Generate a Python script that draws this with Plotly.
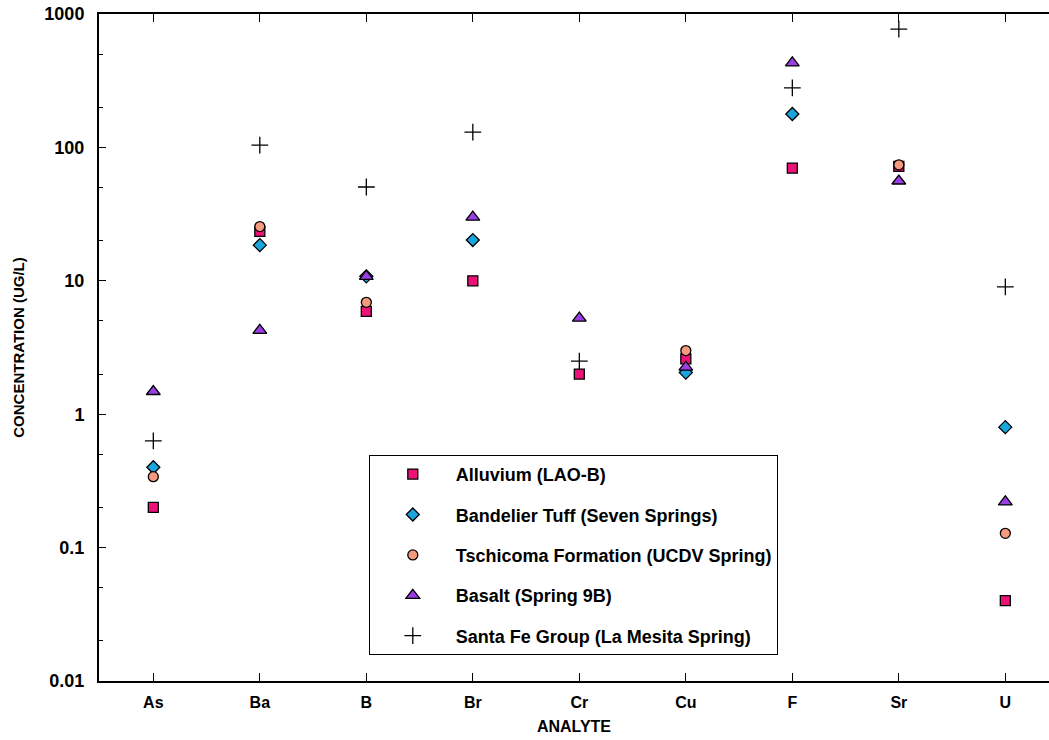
import plotly.graph_objects as go

analytes = ["As", "Ba", "B", "Br", "Cr", "Cu", "F", "Sr", "U"]

alluvium = [0.20, 23.5, 5.9, 10.0, 2.0, 2.6, 70, 72, 0.04]
bandelier = [0.40, 18.5, 10.8, 20.2, None, 2.05, 178, None, 0.80]
tschicoma = [0.34, 25.5, 6.9, None, None, 3.0, None, 74, 0.128]
basalt = [1.48, 4.25, 10.8, 30, 5.25, 2.25, 430, 56, 0.22]
santafe = [0.63, 104, 50.5, 130, 2.5, None, 279, 770, 9.0]

series_names = [
    "Alluvium (LAO-B)",
    "Bandelier Tuff (Seven Springs)",
    "Tschicoma Formation (UCDV Spring)",
    "Basalt (Spring 9B)",
    "Santa Fe Group (La Mesita Spring)",
]

y_tickvals = [0.01, 0.1, 1, 10, 100, 1000]
y_ticktext = ["0.01", "0.1", "1", "10", "100", "1000"]

styles = [
    dict(symbol="square", size=10, color="#EC1277", line=dict(color="black", width=1.3)),
    dict(symbol="diamond", size=10, color="#1AA5DD", line=dict(color="black", width=1.3)),
    dict(symbol="circle", size=10, color="#F59A7E", line=dict(color="black", width=1.3)),
    dict(symbol="triangle-up", size=12, color="#9A3DE3", line=dict(color="black", width=1.3)),
    dict(symbol="cross-thin", size=12, color="black", line=dict(color="black", width=1.3)),
]

fig = go.Figure()
for i, (name, vals) in enumerate(zip(series_names, [alluvium, bandelier, tschicoma, basalt, santafe])):
    fig.add_trace(go.Scatter(
        x=analytes, y=vals, mode="markers", name=name,
        marker=styles[i], legendgroup=f"g{i}", cliponaxis=False,
    ))

bold = "Liberation Sans, Arial"

fig.update_layout(
    width=1049, height=740,
    margin=dict(l=99, r=0, t=14, b=59),
    paper_bgcolor="white", plot_bgcolor="white",
    showlegend=True,
    legend=dict(
        x=0.284, y=0.339, xanchor="left", yanchor="top",
        bordercolor="black", borderwidth=1, bgcolor="white",
        font=dict(family=bold, size=18, color="black", weight="bold"),
        tracegroupgap=14, itemwidth=76,
    ),
    xaxis=dict(
        type="category", range=[-0.51, 8.41],
        showline=True, linecolor="black", linewidth=2, mirror="ticks",
        ticks="inside", ticklen=8, tickcolor="black", tickwidth=1,
        showgrid=False, zeroline=False, ticklabelstandoff=6,
        tickfont=dict(family=bold, size=16, color="black", weight="bold"),
        title=dict(text="ANALYTE", font=dict(family=bold, size=16, color="black", weight="bold"), standoff=11),
    ),
    yaxis=dict(
        type="log", range=[-2, 3],
        tickvals=y_tickvals, ticktext=y_ticktext,
        showline=True, linecolor="black", linewidth=2,
        ticks="inside", ticklen=7, tickcolor="black", tickwidth=1,
        minor=dict(ticks="inside", ticklen=4, tickcolor="black", tickwidth=1, showgrid=False),
        showgrid=False, zeroline=False, ticklabelstandoff=9,
        tickfont=dict(family=bold, size=18, color="black", weight="bold"),
        title=dict(text="CONCENTRATION (UG/L)", font=dict(family=bold, size=15, color="black", weight="bold"), standoff=16),
    ),
)

fig.write_html("out.html")
